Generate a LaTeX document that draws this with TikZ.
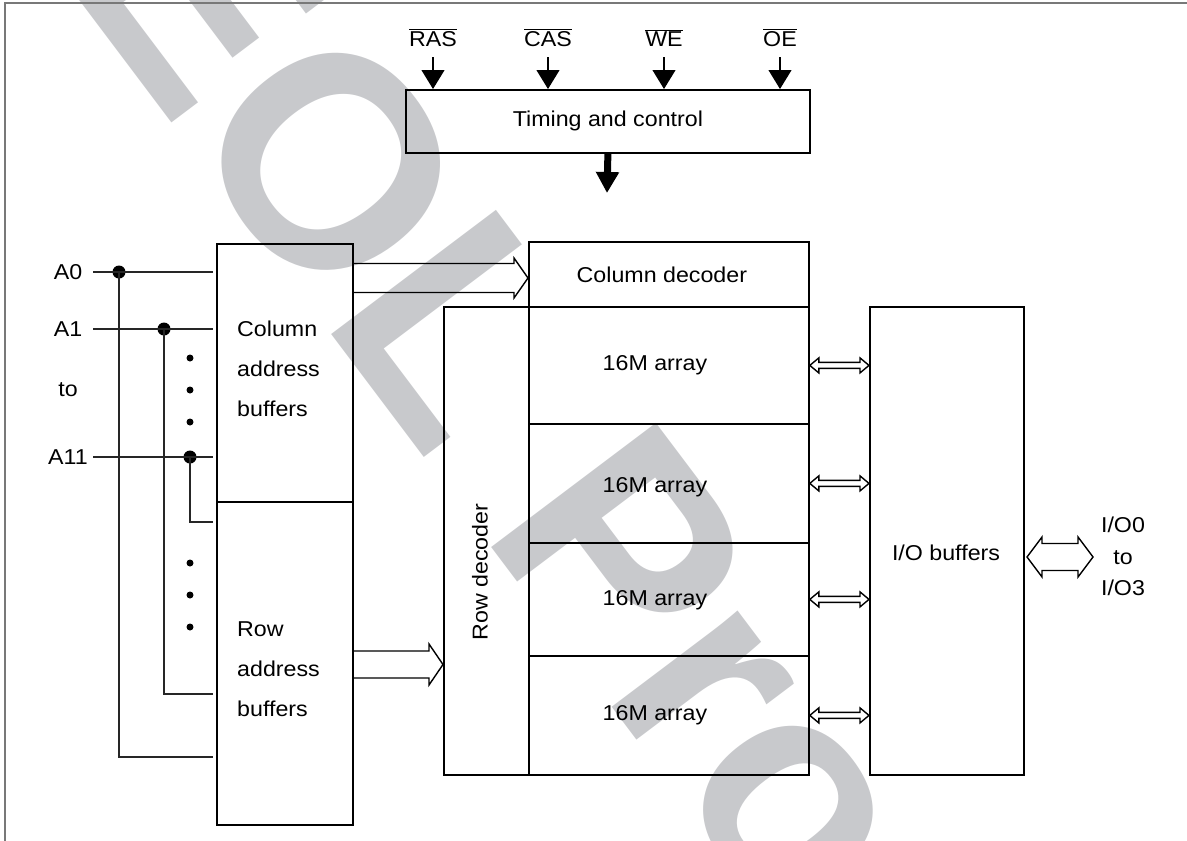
\documentclass[tikz,border=0pt]{standalone}
\usepackage{fontspec}
\setmainfont{Liberation Sans}[FakeStretch=1.08]
\newfontfamily\wmfont{Liberation Sans}
\usetikzlibrary{arrows.meta,calc}
\definecolor{wm}{RGB}{200,201,204}
\definecolor{framegray}{RGB}{120,120,120}
% single-headed hollow bus arrow: #1 start, #2 tip, #3 shaft half width, #4 head half width, #5 head length
\newcommand{\busone}[5]{%
  \draw[busline] ($(#1)+(0,-#3)$) -- ($(#2)+(-#5,-#3)$) -- ($(#2)+(-#5,-#4)$) -- (#2)
    -- ($(#2)+(-#5,#4)$) -- ($(#2)+(-#5,#3)$) -- ($(#1)+(0,#3)$);}
% double-headed hollow bus arrow: #1 left tip, #2 right tip
\newcommand{\bustwo}[5]{%
  \draw[busline] (#1) -- ($(#1)+(#5,-#4)$) -- ($(#1)+(#5,-#3)$) -- ($(#2)+(-#5,-#3)$)
    -- ($(#2)+(-#5,-#4)$) -- (#2) -- ($(#2)+(-#5,#4)$) -- ($(#2)+(-#5,#3)$)
    -- ($(#1)+(#5,#3)$) -- ($(#1)+(#5,#4)$) -- cycle;}
\begin{document}
\begin{tikzpicture}[x=1pt,y=-1pt,
  box/.style={draw, line width=1.8pt, anchor=north west, inner sep=0pt},
  lbl/.style={inner sep=0pt, font=\fontsize{21.5}{40}\selectfont},
  wire/.style={line width=1.1pt, black!85},
  busline/.style={line width=1.4pt, line join=miter},
  sig/.style={line width=1.1pt, -{Triangle[length=19pt,width=23pt]}},
  jdot/.style={circle, fill, inner sep=0pt, minimum size=13pt},
  sdot/.style={circle, fill, inner sep=0pt, minimum size=7pt}]
\useasboundingbox (0,0) rectangle (1187,841);
% watermark
\begin{scope}
  \clip (0,0) rectangle (1187,841);
  \node[anchor=base west, rotate=-53, inner sep=0pt, text=wm,
        font=\wmfont\bfseries\fontsize{300}{300}\selectfont] (wmk) at (58,-28) {EOL Pro};
\end{scope}
% frame
\draw[line width=1.5pt, framegray] (5,841) -- (5,3) -- (1187,3);

% timing and control
\node[box, minimum width=404pt, minimum height=63pt] (tc) at (405,89) {};
\node[lbl] (tct) at (tc.center) {Timing and control};
\node[lbl, anchor=base] (ras) at (433,46) {$\overline{\mbox{RAS}}$};
\node[lbl, anchor=base] (cas) at (548,46) {$\overline{\mbox{CAS}}$};
\node[lbl, anchor=base] (we)  at (664,46) {$\overline{\mbox{WE}}$};
\node[lbl, anchor=base] (oe)  at (780,46) {$\overline{\mbox{OE}}$};
\foreach \s in {ras,cas,we,oe}
  \draw[sig] ([yshift=-11pt]\s.base) -- (\s.base |- tc.north);
\coordinate (tcout) at (607,193);
\draw[line width=7pt, -{Triangle[length=21pt,width=22pt]}] (tc.south) -- (tcout);

% address buffers
\node[box, minimum width=136pt, minimum height=258pt] (cab) at (216,243) {};
\node[box, minimum width=136pt, minimum height=323pt] (rab) at (216,501) {};
\node[lbl, anchor=west, align=left] (cabt) at (237,369) {Column\\address\\buffers};
\node[lbl, anchor=west, align=left] (rabt) at (237,669) {Row\\address\\buffers};

% decoders and arrays
\node[box, minimum width=280pt, minimum height=65pt] (cd) at (528,241) {};
\node[lbl] (cdt) at ([xshift=-7pt]cd.center) {Column decoder};
\node[box, minimum width=85pt, minimum height=468pt] (rd) at (443,306) {};
\node[lbl, rotate=90] (rdt) at (480,572) {Row decoder};
\node[box, minimum width=280pt, minimum height=117pt] (ar1) at (528,306) {};
\node[box, minimum width=280pt, minimum height=119pt] (ar2) at (528,423) {};
\node[box, minimum width=280pt, minimum height=113pt] (ar3) at (528,542) {};
\node[box, minimum width=280pt, minimum height=119pt] (ar4) at (528,655) {};
\node[lbl] (ar1t) at (655,365) {16M array};
\node[lbl] (ar2t) at (655,487) {16M array};
\node[lbl] (ar3t) at (655,600) {16M array};
\node[lbl] (ar4t) at (655,715) {16M array};

% I/O buffers
\node[box, minimum width=154pt, minimum height=468pt] (io) at (869,306) {};
\node[lbl] (iot) at (946,553) {I/O buffers};
\node[lbl] (io0) at (1123,525) {I/O0};
\node[lbl] (iot2) at (1123,558) {to};
\node[lbl] (io3) at (1123,588) {I/O3};

% address inputs
\node[lbl] (a0) at (68,272) {A0};
\node[lbl] (a1) at (68,329) {A1};
\node[lbl] (ato) at (68,390) {to};
\node[lbl] (a11) at (68,457) {A11};
\coordinate (a0l) at (93,272);
\coordinate (a1l) at (93,329);
\coordinate (a11l) at (93,457);
\node[jdot] (j0) at (119,272) {};
\node[jdot] (j1) at (164,329) {};
\node[jdot] (j11) at (190,457) {};
\draw[wire] (a0l) -- ([xshift=-3pt]a0l -| cab.west);
\draw[wire] (a1l) -- ([xshift=-3pt]a1l -| cab.west);
\draw[wire] (a11l) -- ([xshift=-3pt]a11l -| cab.west);
\draw[wire] (j0.center) |- ([xshift=-3pt]rab.west |- 0,757);
\draw[wire] (j1.center) |- ([xshift=-3pt]rab.west |- 0,694);
\draw[wire] (j11.center) |- ([xshift=-3pt]rab.west |- 0,522);
\foreach \y/\n in {358/d1,390/d2,422/d3,563/d4,595/d5,627/d6}
  \node[sdot] (\n) at (190,\y) {};

% bus arrows
\coordinate (cbs) at (cab.east |- 0,278);
\coordinate (cbe) at (cd.west |- 0,278);
\busone{cbs}{cbe}{14.5}{20}{14}
\coordinate (rbs) at (rab.east |- 0,664.5);
\coordinate (rbe) at (rd.west |- 0,664.5);
\busone{rbs}{rbe}{13.5}{20.5}{14}
\foreach \a in {ar1,ar2,ar3,ar4}{
  \coordinate (\a l) at (\a.east);
  \coordinate (\a r) at (\a.east -| io.west);
  \bustwo{\a l}{\a r}{3}{7.5}{9}
}
\coordinate (iol) at (1027,557);
\coordinate (ior) at (1093,557);
\bustwo{iol}{ior}{13.5}{20}{15}
\end{tikzpicture}
\end{document}
